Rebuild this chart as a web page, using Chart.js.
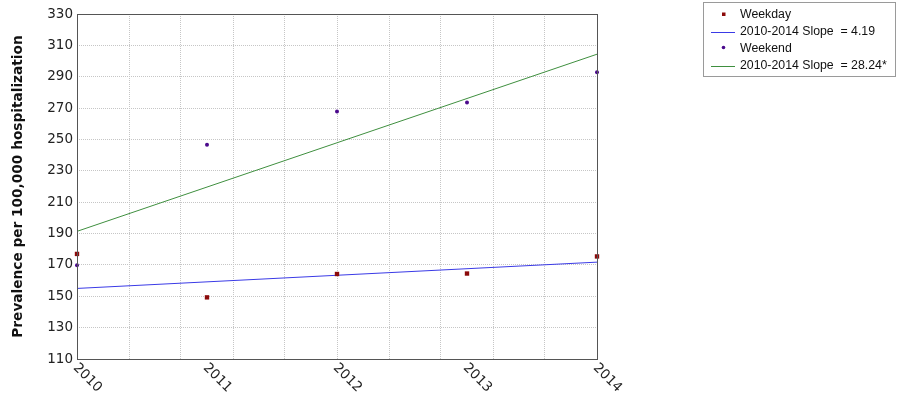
<!DOCTYPE html>
<html>
<head>
<meta charset="utf-8">
<script src="https://cdn.jsdelivr.net/npm/chart.js@4/dist/chart.umd.min.js"></script>
<style>
  html, body { margin: 0; padding: 0; background: #fff; }
  #wrap { width: 898px; height: 399px; position: relative; }
</style>
</head>
<body>
<div id="wrap"><canvas id="c"></canvas></div>
<script>
// Years on the x axis and their tick labels
const years = [2010, 2011, 2012, 2013, 2014];
const yearLabels = ['2010', '2011', '2012', '2013', '2014'];

// Prevalence per 100,000 hospitalizations
const weekday = [177.0, 149.3, 164.2, 164.5, 175.4];
const weekend = [169.8, 246.6, 267.8, 273.5, 292.9];

// 2010-2014 trend lines: value at 2010 and slope per year
const weekdayTrendStart = 155.0;
const weekdaySlope = 4.19;
const weekendTrendStart = 191.4;
const weekendSlope = 28.24;

// Legend labels
const legendLabels = ['Weekday', '2010-2014 Slope  = 4.19', 'Weekend', '2010-2014 Slope  = 28.24*'];

// y ticks and the vertical grid spacing
const yMin = 110, yMax = 330, yStep = 20;
const xGridStep = 0.4;

const toPoints = (vals) => years.map((yr, i) => ({ x: yr, y: vals[i] }));
const trend = (start, slope) => [
  { x: years[0], y: start },
  { x: years[years.length - 1], y: start + slope * (years[years.length - 1] - years[0]) }
];

const COL_WEEKDAY = '#8b0a0a';
const COL_WEEKEND = '#4b0a8c';
const COL_BLUE = '#3a3ae6';
const COL_GREEN = '#3f8f3f';
const COL_GRID = '#c6c6c6';

const frameAndLabels = {
  id: 'frameAndLabels',
  afterDraw(chart) {
    const { ctx, chartArea: a, scales } = chart;
    ctx.save();
    // plot frame
    ctx.strokeStyle = '#555';
    ctx.lineWidth = 1;
    ctx.strokeRect(Math.round(a.left) + 0.5, Math.round(a.top) + 0.5,
                   Math.round(a.right - a.left), Math.round(a.bottom - a.top));
    // slanted year labels
    ctx.fillStyle = '#222';
    ctx.font = '13.5px "DejaVu Sans"';
    ctx.textAlign = 'left';
    ctx.textBaseline = 'top';
    years.forEach((yr, i) => {
      const px = scales.x.getPixelForValue(yr);
      ctx.save();
      ctx.translate(px + 3, a.bottom + 2);
      ctx.rotate(Math.PI / 4);
      ctx.fillText(yearLabels[i], 0, 0);
      ctx.restore();
    });

    // legend box
    const lx = 703, ly = 2, lw = 192, lh = 74;
    ctx.strokeStyle = '#9a9a9a';
    ctx.strokeRect(lx + 0.5, ly + 0.5, lw, lh);
    ctx.font = '12.3px "Liberation Sans"';
    ctx.textBaseline = 'middle';
    const rows = [15, 32, 48.5, 65.5];
    const ds = chart.data.datasets;
    rows.forEach((ry, i) => {
      const d = ds[i];
      if (i === 0) {
        ctx.fillStyle = d.backgroundColor;
        ctx.fillRect(722, ry - 2.5, 3.5, 3.5);
      } else if (i === 2) {
        ctx.fillStyle = d.backgroundColor;
        ctx.beginPath();
        ctx.arc(723.5, ry - 1, 1.8, 0, Math.PI * 2);
        ctx.fill();
      } else {
        ctx.strokeStyle = d.borderColor;
        ctx.lineWidth = 1;
        ctx.beginPath();
        ctx.moveTo(711, Math.round(ry) + 0.5);
        ctx.lineTo(735, Math.round(ry) + 0.5);
        ctx.stroke();
      }
      ctx.fillStyle = '#111';
      ctx.fillText(legendLabels[i], 740, ry);
    });
    ctx.restore();
  }
};

new Chart(document.getElementById('c'), {
  type: 'scatter',
  data: {
    datasets: [
      {
        label: legendLabels[0],
        data: toPoints(weekday),
        backgroundColor: COL_WEEKDAY,
        borderColor: COL_WEEKDAY,
        pointStyle: 'rect',
        pointRadius: 3.1,
        borderWidth: 0,
        clip: false,
        order: 1
      },
      {
        label: legendLabels[1],
        data: trend(weekdayTrendStart, weekdaySlope),
        showLine: true,
        borderColor: COL_BLUE,
        backgroundColor: COL_BLUE,
        borderWidth: 1,
        pointRadius: 0,
        order: 2
      },
      {
        label: legendLabels[2],
        data: toPoints(weekend),
        backgroundColor: COL_WEEKEND,
        borderColor: COL_WEEKEND,
        pointStyle: 'circle',
        pointRadius: 2,
        borderWidth: 0,
        clip: false,
        order: 1
      },
      {
        label: legendLabels[3],
        data: trend(weekendTrendStart, weekendSlope),
        showLine: true,
        borderColor: COL_GREEN,
        backgroundColor: COL_GREEN,
        borderWidth: 1,
        pointRadius: 0,
        order: 2
      }
    ]
  },
  options: {
    responsive: true,
    maintainAspectRatio: false,
    animation: false,
    events: [],
    layout: { padding: { left: 0, right: 301, top: 14, bottom: 0 } },
    plugins: { legend: { display: false }, tooltip: { enabled: false } },
    scales: {
      x: {
        type: 'linear',
        min: years[0],
        max: years[years.length - 1],
        afterBuildTicks(scale) {
          const n = Math.round((years[years.length - 1] - years[0]) / xGridStep);
          const t = [];
          for (let k = 0; k <= n; k++) t.push({ value: years[0] + k * xGridStep });
          scale.ticks = t;
        },
        afterFit(scale) { scale.height = 40; },
        ticks: { display: false },
        grid: { color: COL_GRID, drawTicks: false, lineWidth: 1 },
        border: { display: false, dash: [1, 1] }
      },
      y: {
        min: yMin,
        max: yMax,
        afterFit(scale) { scale.width = 77; },
        ticks: {
          stepSize: yStep,
          padding: 4,
          color: '#222',
          font: { family: 'DejaVu Sans', size: 13.5 }
        },
        grid: { color: COL_GRID, drawTicks: false, lineWidth: 1 },
        border: { display: false, dash: [1, 1] },
        title: {
          display: true,
          text: 'Prevalence per 100,000 hospitalization',
          color: '#111',
          font: { family: 'DejaVu Sans', size: 13.7, weight: 'bold' },
          padding: { top: 10, bottom: 0 }
        }
      }
    }
  },
  plugins: [frameAndLabels]
});
</script>
</body>
</html>
